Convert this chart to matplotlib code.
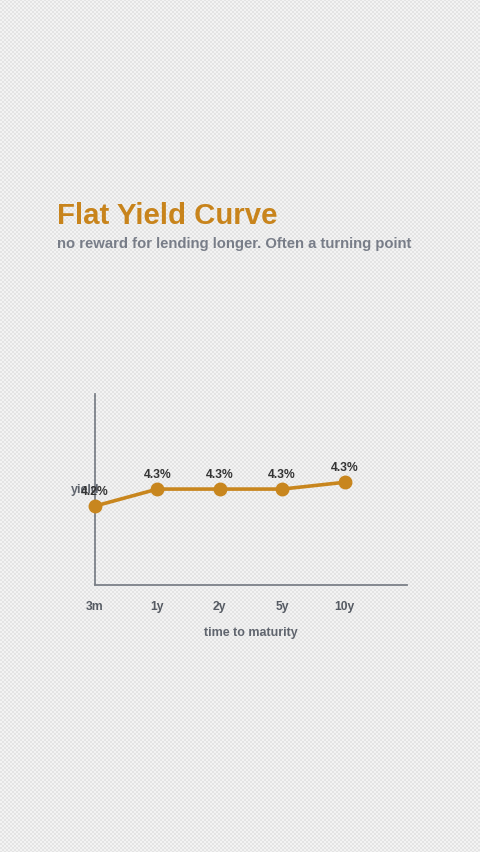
import matplotlib

matplotlib.use("Agg")
import matplotlib.pyplot as plt
import numpy as np

plt.rcParams["font.family"] = ["Liberation Sans", "DejaVu Sans"]

maturities = ["3m", "1y", "2y", "5y", "10y"]
yields = [4.2, 4.3, 4.3, 4.3, 4.34]
labels = ["4.2%", "4.3%", "4.3%", "4.3%", "4.3%"]

W, H = 480, 853
fig = plt.figure(figsize=(W / 100, H / 100), dpi=100)

# checkered background
yy, xx = np.mgrid[0:H, 0:W]
checker = ((xx // 2 + yy // 2) % 2).astype(float)
bg = np.where(checker[..., None] > 0, [0.955, 0.955, 0.955], [0.895, 0.895, 0.895])
fig.figimage(bg, 0, 0, zorder=-10)

fig.text(57 / W, 1 - 216 / H, "Flat Yield Curve", fontsize=21.2, fontweight="bold",
         color="#c8841c", va="center", ha="left")
fig.text(57 / W, 1 - 244 / H, "no reward for lending longer. Often a turning point",
         fontsize=10.7, fontweight="bold", color="#787d88", va="center", ha="left")

ax = fig.add_axes([95 / W, 1 - 586 / H, (407 - 95) / W, (586 - 395) / H], zorder=5)
ax.patch.set_alpha(0)
x = np.arange(len(maturities))
ax.plot(x, yields, color="#c8861e", linewidth=2.6, marker="o", markersize=9,
        clip_on=False, zorder=3)
for xi, yi, lab in zip(x, yields, labels):
    ax.annotate(lab, (xi, yi), xytext=(0, 6.5), textcoords="offset points",
                ha="center", va="bottom", fontsize=8.7, fontweight="bold", color="#333333")

ax.set_xlim(0, 5)
ax.set_ylim(3.735, 4.86)
ax.set_xticks(x)
ax.set_xticklabels(maturities)
ax.set_yticks([])
ax.tick_params(axis="x", length=0, pad=10.5, labelsize=8.7, labelcolor="#555a62")
for lab in ax.get_xticklabels():
    lab.set_fontweight("bold")
ax.set_xlabel("time to maturity", fontsize=9, fontweight="bold", color="#60656e", labelpad=10.5)
ax.set_ylabel("yield", fontsize=9, fontweight="bold", color="#60656e", rotation=0,
              ha="center", va="center")
ax.yaxis.set_label_coords(-0.03, (4.3 - 3.735) / (4.86 - 3.735))
for side in ["top", "right"]:
    ax.spines[side].set_visible(False)
for side in ["left", "bottom"]:
    ax.spines[side].set_color("#7b8088")
    ax.spines[side].set_linewidth(1.3)

fig.savefig("out.png", dpi=100)
